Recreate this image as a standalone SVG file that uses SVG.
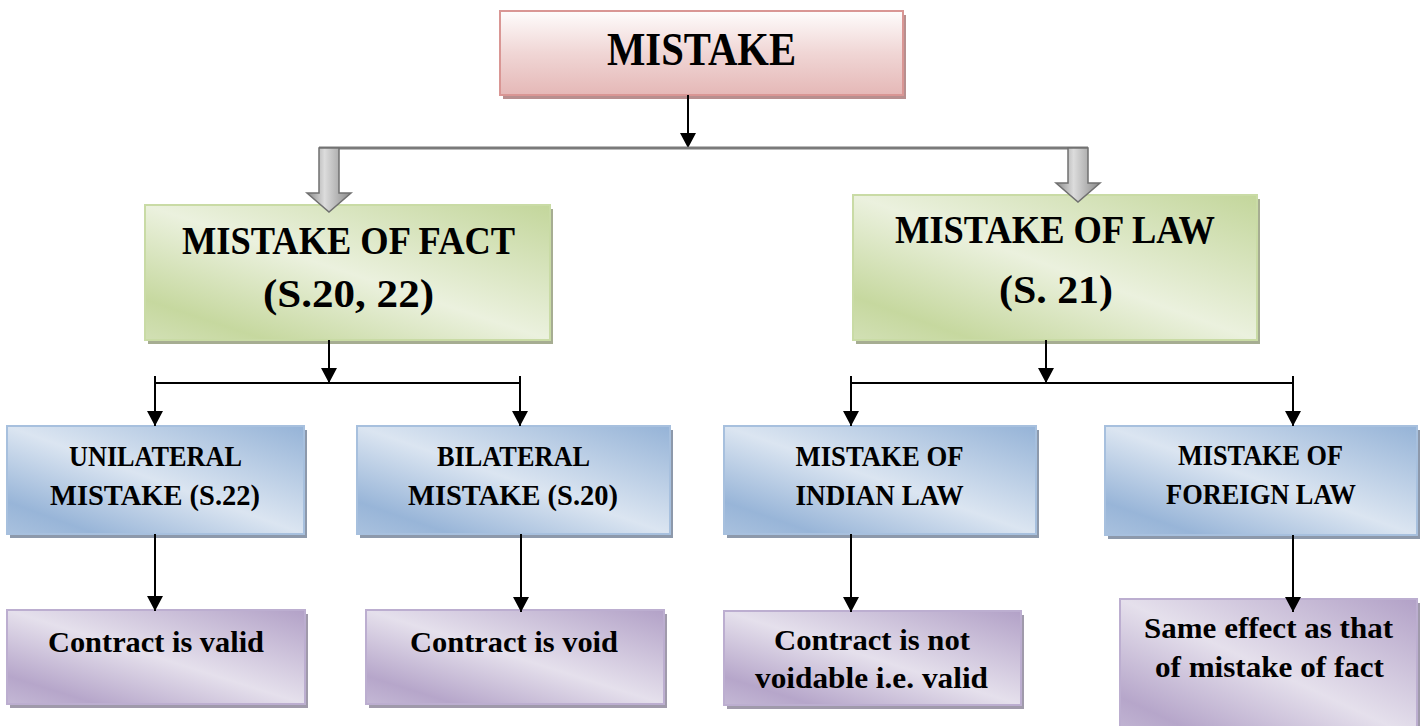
<svg xmlns="http://www.w3.org/2000/svg" width="1424" height="726" viewBox="0 0 1424 726">
<style>
text{font-family:'Liberation Serif','Times New Roman',serif;font-weight:700;fill:#000;text-anchor:middle}
.pink{fill:url(#gPink);stroke:#d99694;stroke-width:2}
.green{fill:url(#gGreen);stroke:#c9dba5;stroke-width:2}
.blue{fill:url(#gBlue);stroke:#a7c0de;stroke-width:2}
.purple{fill:url(#gPurple);stroke:#bcaed0;stroke-width:2}
.conn{stroke:#000;stroke-width:2;fill:none}
.t1{font-size:46px}
.t2{font-size:39px}
.t3{font-size:30px}
.t4{font-size:30px}
</style>
<defs>
<linearGradient id="gPink" x1="0" y1="0" x2="0" y2="1">
<stop offset="0" stop-color="#fefcfc"/>
<stop offset="0.5" stop-color="#f0d6d5"/>
<stop offset="1" stop-color="#e5b8b7"/>
</linearGradient>
<linearGradient id="gGreen" x1="1" y1="0" x2="0" y2="1">
<stop offset="0" stop-color="#c3d69b"/>
<stop offset="0.5" stop-color="#ebf1de"/>
<stop offset="0.85" stop-color="#c6d89f"/>
<stop offset="1" stop-color="#d2e0b5"/>
</linearGradient>
<linearGradient id="gBlue" x1="1" y1="0" x2="0" y2="1">
<stop offset="0" stop-color="#95b3d7"/>
<stop offset="0.5" stop-color="#dbe5f1"/>
<stop offset="0.85" stop-color="#98b5d8"/>
<stop offset="1" stop-color="#a9c1de"/>
</linearGradient>
<linearGradient id="gPurple" x1="1" y1="0" x2="0" y2="1">
<stop offset="0" stop-color="#b2a1c7"/>
<stop offset="0.5" stop-color="#e5e0ec"/>
<stop offset="0.85" stop-color="#b6a6ca"/>
<stop offset="1" stop-color="#c4b8d5"/>
</linearGradient>
<linearGradient id="gGray" x1="0" y1="0" x2="1" y2="0">
<stop offset="0" stop-color="#8a8a8a"/>
<stop offset="0.4" stop-color="#dcdcdc"/>
<stop offset="1" stop-color="#8a8a8a"/>
</linearGradient>
<marker id="arr" markerUnits="userSpaceOnUse" markerWidth="16" markerHeight="16" refX="15" refY="8" orient="auto">
<path d="M0,0 L15,8 L0,16 z" fill="#000"/>
</marker>
</defs>

<g id="node-mistake">
<rect x="503" y="15" width="403" height="84" fill="#b88f8f"/>
<rect x="500" y="11" width="403" height="84" class="pink"/>
<text x="701.5" y="65" class="t1" font-family="Liberation Serif" textLength="189" lengthAdjust="spacingAndGlyphs">MISTAKE</text>
</g>

<g id="node-fact">
<rect x="148" y="209" width="405" height="135" fill="#a6ad92"/>
<rect x="145" y="205" width="405" height="135" class="green"/>
<text x="348.5" y="254" class="t2" font-family="Liberation Serif" textLength="333" lengthAdjust="spacingAndGlyphs">MISTAKE OF FACT</text>
<text x="348.5" y="307" class="t2" font-family="Liberation Serif" textLength="171" lengthAdjust="spacingAndGlyphs">(S.20, 22)</text>
</g>

<g id="node-law">
<rect x="856" y="199" width="404" height="145" fill="#a6ad92"/>
<rect x="853" y="195" width="404" height="145" class="green"/>
<text x="1055" y="243" class="t2" font-family="Liberation Serif" textLength="320" lengthAdjust="spacingAndGlyphs">MISTAKE OF LAW</text>
<text x="1056" y="303" class="t2" font-family="Liberation Serif" textLength="114" lengthAdjust="spacingAndGlyphs">(S. 21)</text>
</g>

<g id="node-unilateral">
<rect x="10" y="430" width="297" height="108" fill="#8d99ab"/>
<rect x="7" y="426" width="297" height="108" class="blue"/>
<text x="155.5" y="466" class="t3" font-family="Liberation Serif" textLength="173" lengthAdjust="spacingAndGlyphs">UNILATERAL</text>
<text x="155" y="505" class="t3" font-family="Liberation Serif" textLength="210" lengthAdjust="spacingAndGlyphs">MISTAKE (S.22)</text>
</g>

<g id="node-bilateral">
<rect x="360" y="430" width="313" height="108" fill="#8d99ab"/>
<rect x="357" y="426" width="313" height="108" class="blue"/>
<text x="513.5" y="466" class="t3" font-family="Liberation Serif" textLength="153" lengthAdjust="spacingAndGlyphs">BILATERAL</text>
<text x="513" y="505" class="t3" font-family="Liberation Serif" textLength="210" lengthAdjust="spacingAndGlyphs">MISTAKE (S.20)</text>
</g>

<g id="node-indian">
<rect x="727" y="430" width="312" height="108" fill="#8d99ab"/>
<rect x="724" y="426" width="312" height="108" class="blue"/>
<text x="879.5" y="466" class="t3" font-family="Liberation Serif" textLength="168" lengthAdjust="spacingAndGlyphs">MISTAKE OF</text>
<text x="879.5" y="505" class="t3" font-family="Liberation Serif" textLength="168" lengthAdjust="spacingAndGlyphs">INDIAN LAW</text>
</g>

<g id="node-foreign">
<rect x="1108" y="430" width="312" height="109" fill="#8d99ab"/>
<rect x="1105" y="426" width="312" height="109" class="blue"/>
<text x="1260.5" y="465" class="t3" font-family="Liberation Serif" textLength="165" lengthAdjust="spacingAndGlyphs">MISTAKE OF</text>
<text x="1261" y="504" class="t3" font-family="Liberation Serif" textLength="190" lengthAdjust="spacingAndGlyphs">FOREIGN LAW</text>
</g>

<g id="node-valid">
<rect x="10" y="614" width="298" height="94" fill="#a09aab"/>
<rect x="7" y="610" width="298" height="94" class="purple"/>
<text x="156" y="652" class="t4" font-family="Liberation Serif" textLength="216" lengthAdjust="spacingAndGlyphs">Contract is valid</text>
</g>

<g id="node-void">
<rect x="369" y="614" width="298" height="94" fill="#a09aab"/>
<rect x="366" y="610" width="298" height="94" class="purple"/>
<text x="514" y="652" class="t4" font-family="Liberation Serif" textLength="208" lengthAdjust="spacingAndGlyphs">Contract is void</text>
</g>

<g id="node-notvoidable">
<rect x="727" y="615" width="297" height="94" fill="#a09aab"/>
<rect x="724" y="611" width="297" height="94" class="purple"/>
<text x="872" y="650" class="t4" font-family="Liberation Serif" textLength="196" lengthAdjust="spacingAndGlyphs">Contract is not</text>
<text x="871.5" y="688" class="t4" font-family="Liberation Serif" textLength="233" lengthAdjust="spacingAndGlyphs">voidable i.e. valid</text>
</g>

<g id="node-sameeffect">
<rect x="1123" y="603" width="297" height="140" fill="#a09aab"/>
<rect x="1120" y="599" width="297" height="140" class="purple"/>
<text x="1268.5" y="638" class="t4" font-family="Liberation Serif" textLength="249" lengthAdjust="spacingAndGlyphs">Same effect as that</text>
<text x="1269.5" y="677" class="t4" font-family="Liberation Serif" textLength="229" lengthAdjust="spacingAndGlyphs">of mistake of fact</text>
</g>

<g id="connectors">
<line x1="688" y1="95" x2="688" y2="148" class="conn" marker-end="url(#arr)"/>
<path d="M319,148 H1088" stroke="#7a7a7a" stroke-width="3" fill="none"/>
<path d="M319,148 H339 V193 H351 L329,212 L307,193 H319 Z" fill="url(#gGray)" stroke="#707070" stroke-width="1.5"/>
<path d="M1068,148 H1088 V183 H1100 L1078,202 L1056,183 H1068 Z" fill="url(#gGray)" stroke="#707070" stroke-width="1.5"/>

<line x1="329" y1="340" x2="329" y2="383" class="conn" marker-end="url(#arr)"/>
<line x1="155" y1="383" x2="520" y2="383" class="conn"/>
<line x1="155" y1="376" x2="155" y2="426" class="conn" marker-end="url(#arr)"/>
<line x1="520" y1="376" x2="520" y2="426" class="conn" marker-end="url(#arr)"/>

<line x1="1046" y1="340" x2="1046" y2="383" class="conn" marker-end="url(#arr)"/>
<line x1="851" y1="383" x2="1293" y2="383" class="conn"/>
<line x1="851" y1="376" x2="851" y2="426" class="conn" marker-end="url(#arr)"/>
<line x1="1293" y1="376" x2="1293" y2="426" class="conn" marker-end="url(#arr)"/>

<line x1="155" y1="534" x2="155" y2="611" class="conn" marker-end="url(#arr)"/>
<line x1="521" y1="534" x2="521" y2="612" class="conn" marker-end="url(#arr)"/>
<line x1="851" y1="534" x2="851" y2="612" class="conn" marker-end="url(#arr)"/>
<line x1="1293" y1="535" x2="1293" y2="612" class="conn" marker-end="url(#arr)"/>
</g>
</svg>
